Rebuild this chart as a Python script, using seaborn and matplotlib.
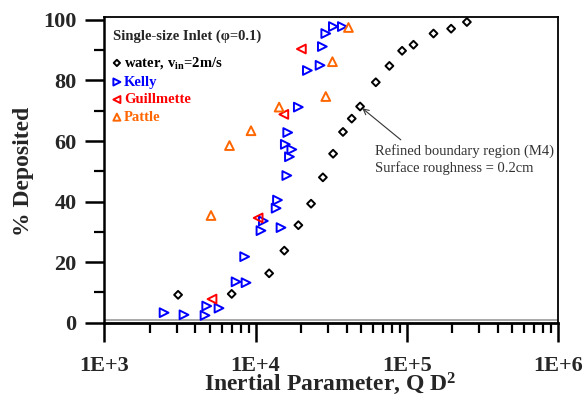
import numpy as np
import pandas as pd
import matplotlib
matplotlib.use("Agg")
import matplotlib.pyplot as plt
import seaborn as sns
from matplotlib.ticker import MultipleLocator, LogLocator, FuncFormatter, NullFormatter

# ---------------- data ----------------
water_x = [3070, 6950, 12300, 15500, 19200, 23300, 27900, 32600, 37900, 43300,
           49200, 62500, 76900, 93300, 111000, 150600, 197000, 250500]
water_y = [9.2, 9.5, 16.3, 23.8, 32.2, 39.3, 48.0, 55.8, 63.0, 67.4,
           71.4, 79.4, 84.8, 89.8, 91.8, 95.5, 97.1, 99.3]

kelly_x = [2480, 3360, 4630, 4750, 5730, 7430, 8650, 8470, 10860, 11260, 14740,
           13680, 13970, 16100, 16760, 17380, 15740, 16330, 19190, 22030, 26730,
           27680, 29160, 32740, 37540]
kelly_y = [3.3, 2.6, 2.4, 5.5, 4.8, 13.5, 13.2, 21.8, 30.4, 33.6, 31.4,
           37.8, 40.5, 48.6, 54.8, 57.2, 58.9, 62.8, 71.2, 83.3, 85.0,
           91.2, 95.5, 97.8, 97.8]

guill_x = [5150, 10400, 15380, 20100]
guill_y = [7.8, 34.6, 68.8, 90.4]

pattle_x = [5070, 6720, 9330, 14320, 29160, 32270, 41200]
pattle_y = [35.4, 58.5, 63.4, 71.2, 74.7, 86.2, 97.5]

series_names = ["water, v$_{\\mathrm{in}}$=2m/s", "Kelly", "Guillmette", "Pattle"]
legend_title = "Single-size Inlet (\u03c6=0.1)"
x_tick_values = [1e3, 1e4, 1e5, 1e6]
x_label = "Inertial Parameter, Q D$^{2}$"
y_label = "% Deposited"
note_text = "Refined boundary region (M4)\nSurface roughness = 0.2cm"
note_point = (49200, 71.4)
note_tail = (91500, 60.4)
note_pos = (61800, 59.0)

# ---------------- style ----------------
sns.set_style("ticks")
plt.rcParams["font.family"] = ["Liberation Serif", "DejaVu Serif"]
plt.rcParams["font.weight"] = "bold"
plt.rcParams["mathtext.fontset"] = "custom"
plt.rcParams["mathtext.rm"] = "Liberation Serif:bold"
plt.rcParams["mathtext.it"] = "Liberation Serif:bold"
plt.rcParams["mathtext.bf"] = "Liberation Serif:bold"

fig = plt.figure(figsize=(5.87, 4.01), dpi=100)
ax = fig.add_axes([0.1780, 0.1953, 0.7721, 0.7611])

orange = "#FF6600"
specs = [
    (water_x, water_y, "D", "black", 16, series_names[0]),
    (kelly_x, kelly_y, ">", "#0000FF", 40, series_names[1]),
    (guill_x, guill_y, "<", "#FF0000", 40, series_names[2]),
    (pattle_x, pattle_y, "^", orange, 40, series_names[3]),
]
for xs, ys, mk, col, s, lab in specs:
    df = pd.DataFrame({"x": xs, "y": ys})
    sns.scatterplot(data=df, x="x", y="y", marker=mk, s=s, color=col,
                    facecolor="none", edgecolor=col, linewidth=1.4,
                    label=lab, ax=ax, zorder=3)

ax.set_xscale("log")
ax.set_xlim(1e3, 1e6)
ax.set_ylim(0, 100.8)
ax.axhline(0.9, color="#999999", lw=1.2, zorder=1)

ax.xaxis.set_major_locator(matplotlib.ticker.FixedLocator(x_tick_values))
ax.xaxis.set_major_formatter(FuncFormatter(lambda v, p: f"1E+{int(round(np.log10(v)))}"))
ax.xaxis.set_minor_locator(LogLocator(base=10, subs=np.arange(2, 10), numticks=20))
ax.xaxis.set_minor_formatter(NullFormatter())
ax.yaxis.set_major_locator(MultipleLocator(20))
ax.yaxis.set_minor_locator(MultipleLocator(10))

ax.tick_params(which="major", direction="out", length=14, width=1.8,
               labelsize=16, color="black")
ax.tick_params(which="minor", direction="out", length=7, width=1.6, color="black")
ax.tick_params(axis="x", which="major", pad=10)
ax.tick_params(axis="y", which="major", pad=6)
for lab in ax.get_xticklabels() + ax.get_yticklabels():
    lab.set_fontweight("bold")

for sp in ax.spines.values():
    sp.set_visible(True)
    sp.set_color("black")
    sp.set_linewidth(1.3)
ax.spines["bottom"].set_linewidth(2.0)
ax.spines["left"].set_linewidth(1.8)

ax.set_xlabel(x_label, fontsize=17, fontweight="bold", va="top")
ax.set_ylabel(y_label, fontsize=17, fontweight="bold")
ax.xaxis.set_label_coords(0.4987, -0.158)
ax.yaxis.set_label_coords(-0.155, 0.497)

leg = ax.legend(title=legend_title, loc="upper left", bbox_to_anchor=(0.0, 0.99),
                frameon=False, fontsize=10.5, title_fontsize=10.5, alignment="left",
                labelcolor=["black", "#0000FF", "#FF0000", orange],
                handletextpad=0.25, handlelength=0.5, labelspacing=0.3,
                markerscale=0.8, borderaxespad=0.3, borderpad=0.3)
leg._legend_box.sep = 9
leg.get_title().set_fontweight("bold")
for t in leg.get_texts():
    t.set_fontweight("bold")

ax.annotate("", xy=note_point, xytext=note_tail,
            arrowprops=dict(arrowstyle="->", color="#333333", lw=0.8,
                            shrinkA=0, shrinkB=2))
ax.text(note_pos[0], note_pos[1], note_text, fontsize=10.5, fontweight="normal",
        color="#333333", va="top", ha="left", linespacing=1.3)

fig.savefig("out.png", dpi=100)
